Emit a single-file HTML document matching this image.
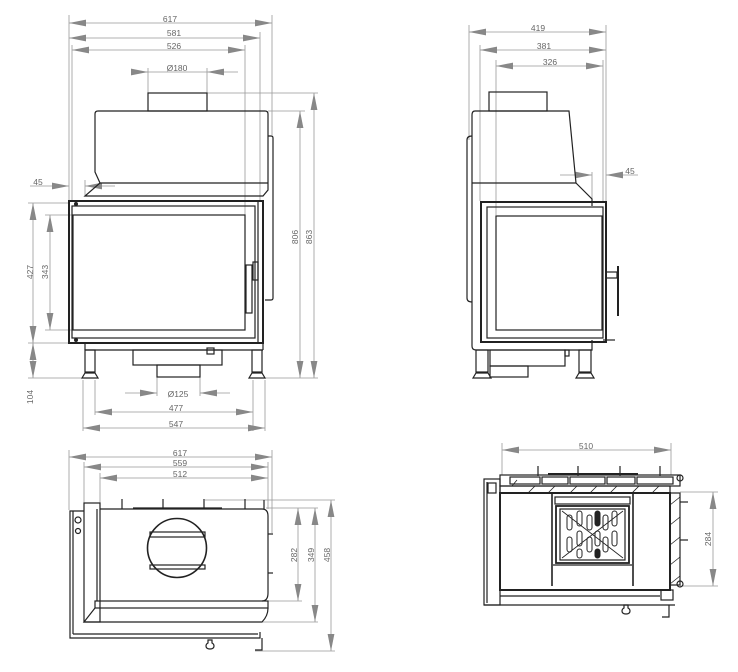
<!DOCTYPE html>
<html><head><meta charset="utf-8"><style>
html,body{margin:0;padding:0;background:#fff}
svg{display:block}
text{font-family:"Liberation Sans",sans-serif;font-size:8.5px;fill:#666}
.k{stroke:#222;fill:none;stroke-width:1.2}
.kt{stroke:#222;fill:none;stroke-width:2}
.d{stroke:#999;fill:none;stroke-width:0.8}
</style></head><body>
<svg width="738" height="672" viewBox="0 0 738 672" xmlns="http://www.w3.org/2000/svg">
<defs>
<marker id="a" viewBox="0 0 10 4" refX="10" refY="2" markerWidth="17" markerHeight="7" markerUnits="userSpaceOnUse" orient="auto-start-reverse"><path d="M0,0 L10,2 L0,4z" fill="#888"/></marker>
</defs>

<!-- ================= FRONT VIEW ================= -->
<g class="d">
<line x1="69" y1="15" x2="69" y2="203"/><line x1="272" y1="15" x2="272" y2="135"/>
<line x1="260" y1="32" x2="260" y2="200"/><line x1="245" y1="45" x2="245" y2="215"/>
<line x1="72" y1="45" x2="72" y2="200"/>
<line x1="69" y1="23" x2="272" y2="23" marker-start="url(#a)" marker-end="url(#a)"/>
<line x1="69" y1="38" x2="260" y2="38" marker-start="url(#a)" marker-end="url(#a)"/>
<line x1="72" y1="50" x2="245" y2="50" marker-start="url(#a)" marker-end="url(#a)"/>
<line x1="132" y1="72" x2="148" y2="72" marker-end="url(#a)"/><line x1="238" y1="72" x2="207" y2="72" marker-end="url(#a)"/>
<line x1="148" y1="72" x2="207" y2="72"/>
<line x1="148" y1="68" x2="148" y2="93"/><line x1="207" y1="68" x2="207" y2="93"/>
<line x1="207" y1="93" x2="318" y2="93"/><line x1="268" y1="111" x2="305" y2="111"/><line x1="262" y1="378" x2="318" y2="378"/>
<line x1="300" y1="111" x2="300" y2="378" marker-start="url(#a)" marker-end="url(#a)"/>
<line x1="314" y1="93" x2="314" y2="378" marker-start="url(#a)" marker-end="url(#a)"/>
<line x1="30" y1="186" x2="69" y2="186" marker-end="url(#a)"/><line x1="115" y1="186" x2="85" y2="186" marker-end="url(#a)"/>
<line x1="85" y1="180" x2="85" y2="196"/>
<line x1="28" y1="203" x2="69" y2="203"/><line x1="45" y1="215" x2="73" y2="215"/><line x1="45" y1="330" x2="73" y2="330"/>
<line x1="28" y1="343" x2="69" y2="343"/><line x1="28" y1="378" x2="90" y2="378"/>
<line x1="33" y1="203" x2="33" y2="343" marker-start="url(#a)" marker-end="url(#a)"/>
<line x1="50" y1="215" x2="50" y2="330" marker-start="url(#a)" marker-end="url(#a)"/>
<line x1="33" y1="343" x2="33" y2="378" marker-start="url(#a)" marker-end="url(#a)"/>
<line x1="157" y1="377" x2="157" y2="396"/><line x1="200" y1="377" x2="200" y2="396"/>
<line x1="125" y1="393" x2="157" y2="393" marker-end="url(#a)"/><line x1="230" y1="393" x2="200" y2="393" marker-end="url(#a)"/>
<line x1="95" y1="380" x2="95" y2="415"/><line x1="253" y1="380" x2="253" y2="431"/><line x1="83" y1="380" x2="83" y2="431"/><line x1="265" y1="380" x2="265" y2="431"/>
<line x1="95" y1="412" x2="253" y2="412" marker-start="url(#a)" marker-end="url(#a)"/>
<line x1="83" y1="428" x2="265" y2="428" marker-start="url(#a)" marker-end="url(#a)"/>
</g>
<text x="170" y="22" text-anchor="middle">617</text>
<text x="174" y="36" text-anchor="middle">581</text>
<text x="174" y="49" text-anchor="middle">526</text>
<text x="177" y="71" text-anchor="middle">Ø180</text>
<text x="38" y="185" text-anchor="middle">45</text>
<text x="178" y="397" text-anchor="middle">Ø125</text>
<text x="176" y="411" text-anchor="middle">477</text>
<text x="176" y="427" text-anchor="middle">547</text>
<text transform="translate(33,272) rotate(-90)" text-anchor="middle">427</text>
<text transform="translate(48,272) rotate(-90)" text-anchor="middle">343</text>
<text transform="translate(33,397) rotate(-90)" text-anchor="middle">104</text>
<text transform="translate(298,237) rotate(-90)" text-anchor="middle">806</text>
<text transform="translate(312,237) rotate(-90)" text-anchor="middle">863</text>
<g class="k">
<rect x="148" y="93" width="59" height="18"/>
<path d="M98,111 H265 Q268,111 268,114 V190 L263,196 H85 L100,183 L95,172 V114 Q95,111 98,111 Z"/>
<line x1="100" y1="183" x2="268" y2="183"/>
<path d="M268,136 H271 Q273,136 273,138 V298 Q273,300 271,300 H265"/>
<rect x="69" y="201" width="194" height="142" class="kt"/>
<rect x="72" y="206" width="183" height="132"/>
<rect x="73" y="215" width="172" height="115"/>
<line x1="258" y1="201" x2="258" y2="343"/>
<rect x="246" y="265" width="6" height="48"/>
<rect x="253" y="262" width="5" height="18"/>
<line x1="85" y1="343" x2="85" y2="350"/><line x1="263" y1="343" x2="263" y2="350"/>
<line x1="85" y1="350" x2="263" y2="350"/>
<rect x="85" y="350" width="10" height="22"/><rect x="252" y="350" width="10" height="22"/>
<path d="M82,378 L85,373 H95 L98,378 Z"/><path d="M249,378 L252,373 H262 L265,378 Z"/>
<rect x="133" y="350" width="89" height="15"/>
<rect x="157" y="365" width="43" height="12"/>
<rect x="207" y="348" width="7" height="6"/>
</g>
<g fill="#222"><circle cx="76" cy="204" r="2"/><circle cx="76" cy="340" r="2"/></g>

<!-- ================= SIDE VIEW ================= -->
<g class="d">
<line x1="469" y1="25" x2="469" y2="140"/><line x1="606" y1="25" x2="606" y2="201"/>
<line x1="480" y1="45" x2="480" y2="201"/><line x1="496" y1="60" x2="496" y2="215"/><line x1="603" y1="60" x2="603" y2="201"/>
<line x1="469" y1="32" x2="606" y2="32" marker-start="url(#a)" marker-end="url(#a)"/>
<line x1="480" y1="50" x2="606" y2="50" marker-start="url(#a)" marker-end="url(#a)"/>
<line x1="496" y1="66" x2="603" y2="66" marker-start="url(#a)" marker-end="url(#a)"/>
<line x1="560" y1="175" x2="592" y2="175" marker-end="url(#a)"/><line x1="638" y1="175" x2="606" y2="175" marker-end="url(#a)"/>
<line x1="592" y1="172" x2="592" y2="199"/>
</g>
<text x="538" y="31" text-anchor="middle">419</text>
<text x="544" y="49" text-anchor="middle">381</text>
<text x="550" y="65" text-anchor="middle">326</text>
<text x="630" y="174" text-anchor="middle">45</text>
<g class="k">
<rect x="489" y="92" width="58" height="19"/>
<path d="M475,111 H569 L576,183 L592,199 V206"/>
<path d="M475,111 Q472,111 472,115 V346 Q472,350 476,350 H592 V340"/>
<line x1="472" y1="183" x2="576" y2="183"/>
<path d="M472,136 Q467,136 467,140 V298 Q467,302 472,302"/>
<rect x="481" y="202" width="125" height="140" class="kt"/>
<rect x="487" y="207" width="116" height="131"/>
<rect x="496" y="216" width="106" height="114"/>
<rect x="606" y="272" width="11" height="6"/>
<line x1="618" y1="266" x2="618" y2="316" stroke-width="2"/>
<line x1="603" y1="340" x2="615" y2="340"/>
<rect x="476" y="350" width="12" height="22"/><rect x="579" y="350" width="12" height="22"/>
<path d="M473,378 L476,373 H488 L491,378 Z"/><path d="M576,378 L579,373 H591 L594,378 Z"/>
<rect x="490" y="350" width="75" height="16"/>
<rect x="490" y="366" width="38" height="11"/>
<rect x="565" y="350" width="4" height="6"/>
</g>

<!-- ================= TOP VIEW ================= -->
<g class="d">
<line x1="69" y1="450" x2="69" y2="510"/><line x1="272" y1="450" x2="272" y2="533"/>
<line x1="84" y1="462" x2="84" y2="503"/><line x1="100" y1="473" x2="100" y2="503"/><line x1="268" y1="462" x2="268" y2="509"/>
<line x1="69" y1="457" x2="272" y2="457" marker-start="url(#a)" marker-end="url(#a)"/>
<line x1="84" y1="467" x2="268" y2="467" marker-start="url(#a)" marker-end="url(#a)"/>
<line x1="100" y1="478" x2="268" y2="478" marker-start="url(#a)" marker-end="url(#a)"/>
<line x1="205" y1="500" x2="335" y2="500"/><line x1="266" y1="508" x2="318" y2="508"/>
<line x1="268" y1="601" x2="302" y2="601"/><line x1="262" y1="622" x2="318" y2="622"/><line x1="255" y1="651" x2="335" y2="651"/>
<line x1="298" y1="508" x2="298" y2="601" marker-start="url(#a)" marker-end="url(#a)"/>
<line x1="315" y1="508" x2="315" y2="622" marker-start="url(#a)" marker-end="url(#a)"/>
<line x1="331" y1="500" x2="331" y2="651" marker-start="url(#a)" marker-end="url(#a)"/>
</g>
<text x="180" y="456" text-anchor="middle">617</text>
<text x="180" y="466" text-anchor="middle">559</text>
<text x="180" y="477" text-anchor="middle">512</text>
<text transform="translate(297,555) rotate(-90)" text-anchor="middle">282</text>
<text transform="translate(314,555) rotate(-90)" text-anchor="middle">349</text>
<text transform="translate(330,555) rotate(-90)" text-anchor="middle">458</text>
<g class="k">
<path d="M84,511 H70 V638 H260 V632"/>
<line x1="73" y1="511" x2="73" y2="634"/><line x1="73" y1="634" x2="258" y2="634"/>
<rect x="84" y="503" width="16" height="119"/>
<path d="M100,509 H262 Q268,509 268,516 V593 Q268,601 262,601"/>
<line x1="97" y1="509" x2="97" y2="601"/>
<line x1="133" y1="508" x2="222" y2="508"/>
<rect x="95" y="601" width="173" height="7"/>
<path d="M95,608 L84,622 H262 Q268,616 268,608"/>
<line x1="122" y1="499" x2="122" y2="509"/><line x1="163" y1="499" x2="163" y2="509"/><line x1="204" y1="499" x2="204" y2="509"/><line x1="245" y1="499" x2="245" y2="509"/><line x1="264" y1="500" x2="264" y2="509"/>
<circle cx="177" cy="548" r="29.5" stroke-width="1.6"/>
<rect x="150" y="532" width="55" height="5"/>
<rect x="150" y="565" width="55" height="4"/>
<line x1="268" y1="534" x2="273" y2="534"/><line x1="268" y1="573" x2="273" y2="573"/>
<circle cx="78" cy="520" r="3"/><circle cx="78" cy="531" r="2.5"/>
<path d="M208,640 h4 v3 q2,1 2,3 q0,3 -4,3 q-4,0 -4,-3 q0,-2 2,-3z"/>
<path d="M255,650 H262 V638"/>
</g>

<!-- ================= BOTTOM-RIGHT SECTION ================= -->
<g class="d">
<line x1="502" y1="443" x2="502" y2="475"/><line x1="671" y1="443" x2="671" y2="475"/>
<line x1="502" y1="450" x2="671" y2="450" marker-start="url(#a)" marker-end="url(#a)"/>
<line x1="680" y1="492" x2="718" y2="492"/><line x1="680" y1="586" x2="718" y2="586"/>
<line x1="713" y1="492" x2="713" y2="586" marker-start="url(#a)" marker-end="url(#a)"/>
</g>
<text x="586" y="449" text-anchor="middle">510</text>
<text transform="translate(711,539) rotate(-90)" text-anchor="middle">284</text>
<g class="k">
<line x1="538" y1="466" x2="538" y2="476"/><line x1="578" y1="466" x2="578" y2="476"/><line x1="620" y1="466" x2="620" y2="476"/><line x1="660" y1="466" x2="660" y2="476"/>
<rect x="500" y="475" width="180" height="11"/>
<line x1="548" y1="474" x2="638" y2="474" stroke-width="2"/>
<rect x="510" y="477" width="30" height="7"/><rect x="542" y="477" width="26" height="7"/><rect x="570" y="477" width="35" height="7"/><rect x="607" y="477" width="28" height="7"/><rect x="637" y="477" width="36" height="7"/>
<rect x="500" y="486" width="170" height="7"/>
<rect x="484" y="479" width="16" height="126"/>
<line x1="487" y1="482" x2="487" y2="603"/>
<rect x="500" y="493" width="170" height="97" class="kt"/>
<rect x="670" y="493" width="10" height="92"/>
<line x1="500" y1="590" x2="670" y2="590"/>
<line x1="500" y1="596" x2="660" y2="596"/>
<line x1="484" y1="605" x2="675" y2="605"/>
<line x1="552" y1="493" x2="552" y2="586" stroke-width="1.6"/><line x1="633" y1="493" x2="633" y2="586" stroke-width="1.6"/>
<rect x="555" y="497" width="75" height="7"/>
<rect x="556" y="506" width="73" height="57" stroke-width="1.8"/>
<rect x="560" y="509" width="65" height="51"/>
<line x1="553" y1="565" x2="632" y2="565"/>
<path d="M562,511 L623,558 M623,511 L562,558" stroke-width="0.8"/>
<g stroke-width="1">
<rect x="567" y="515" width="5" height="15" rx="2.5"/><rect x="567" y="537" width="5" height="15" rx="2.5"/>
<rect x="577" y="511" width="5" height="15" rx="2.5"/><rect x="577" y="531" width="5" height="15" rx="2.5"/><rect x="577" y="549" width="5" height="9" rx="2.5"/>
<rect x="587" y="515" width="5" height="15" rx="2.5"/><rect x="587" y="537" width="5" height="15" rx="2.5"/>
<rect x="595" y="511" width="5" height="15" rx="2.5" fill="#222"/><rect x="595" y="531" width="5" height="15" rx="2.5"/><rect x="595" y="549" width="5" height="9" rx="2.5" fill="#222"/>
<rect x="603" y="515" width="5" height="15" rx="2.5"/><rect x="603" y="537" width="5" height="15" rx="2.5"/>
<rect x="612" y="511" width="5" height="15" rx="2.5"/><rect x="612" y="531" width="5" height="15" rx="2.5"/>
</g>
<path d="M512,486 l5,-6 M528,493 l7,-7 M548,493 l7,-7 M570,493 l7,-7 M590,493 l7,-7 M610,493 l7,-7 M632,493 l7,-7 M652,493 l7,-7" stroke-width="0.8"/>
<path d="M670,505 l10,-8 M670,525 l10,-8 M670,545 l10,-8 M670,565 l10,-8 M670,584 l10,-8" stroke-width="0.8"/>
<line x1="680" y1="502" x2="688" y2="502"/><line x1="680" y1="540" x2="688" y2="540"/>
<circle cx="680" cy="478" r="3"/><circle cx="680" cy="584" r="3"/>
<rect x="661" y="590" width="12" height="10"/>
<path d="M624,605 h4 v3 q2,1 2,3 q0,3 -4,3 q-4,0 -4,-3 q0,-2 2,-3z"/>
<path d="M662,617 H669 V605"/>
<rect x="488" y="483" width="8" height="10"/>
</g>
</svg>
</body></html>
